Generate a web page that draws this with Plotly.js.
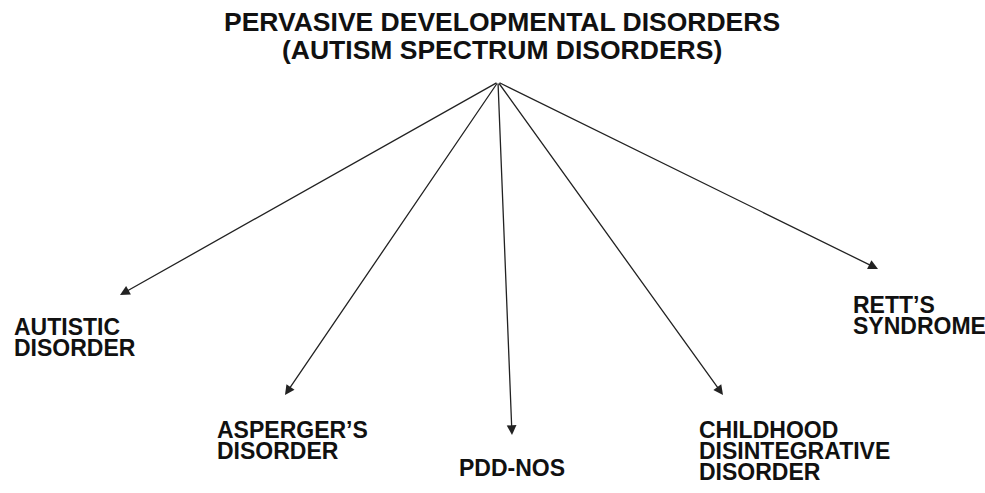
<!DOCTYPE html>
<html>
<head>
<meta charset="utf-8">
<script src="https://cdn.plot.ly/plotly-3.0.1.min.js"></script>
<style>html,body{margin:0;padding:0;background:#fff;}#chart{width:985px;height:493px;}</style>
</head>
<body>
<div id="chart"></div>
<script>
// Root concept (title lines)
const titleLines = ["PERVASIVE DEVELOPMENTAL DISORDERS", "(AUTISM SPECTRUM DISORDERS)"];
// Child categories (each entry = lines of the label)
const categories = [
  ["AUTISTIC", "DISORDER"],
  ["ASPERGER\u2019S", "DISORDER"],
  ["PDD-NOS"],
  ["CHILDHOOD", "DISINTEGRATIVE", "DISORDER"],
  ["RETT\u2019S", "SYNDROME"]
];
// Diagram coordinates (pixel-like data units) for the root apex and the arrow tips
const rootX = 498, rootY = 82;
const tipX = [120, 285, 512, 723, 878];
const tipY = [295, 395, 435, 395, 269];
// Label anchor (left edge, first-line centre)
const labelX = [12, 215, 457, 697, 851];
const labelY = [327, 430, 468, 430, 305];

const FONT = "Liberation Sans, Arial, Helvetica, sans-serif";
const annotations = [];

titleLines.forEach((t, i) => {
  annotations.push({
    x: 502, y: 22 + i * 28, xref: 'x', yref: 'y', text: '<b>' + t + '</b>',
    showarrow: false, xanchor: 'center', yanchor: 'middle',
    font: {family: FONT, size: 26.5, color: '#111'}
  });
});

categories.forEach((lines, k) => {
  annotations.push({
    x: tipX[k], y: tipY[k], ax: rootX, ay: rootY, xref: 'x', yref: 'y', axref: 'x', ayref: 'y',
    text: '', showarrow: true, arrowhead: 2, arrowsize: 1.5, arrowwidth: 1.3,
    arrowcolor: '#222', standoff: 0, startstandoff: 0
  });
  lines.forEach((ln, j) => {
    annotations.push({
      x: labelX[k], y: labelY[k] + j * 21, xref: 'x', yref: 'y', text: '<b>' + ln + '</b>',
      showarrow: false, xanchor: 'left', yanchor: 'middle',
      font: {family: FONT, size: 23, color: '#111'}
    });
  });
});

const layout = {
  width: 985, height: 493,
  margin: {l: 0, r: 0, t: 0, b: 0},
  paper_bgcolor: '#fff', plot_bgcolor: '#fff',
  xaxis: {range: [0, 985], visible: false, fixedrange: true},
  yaxis: {range: [493, 0], visible: false, fixedrange: true},
  showlegend: false,
  annotations: annotations
};
Plotly.newPlot('chart', [{x: [], y: [], type: 'scatter'}], layout, {displayModeBar: false, staticPlot: true});
</script>
</body>
</html>
